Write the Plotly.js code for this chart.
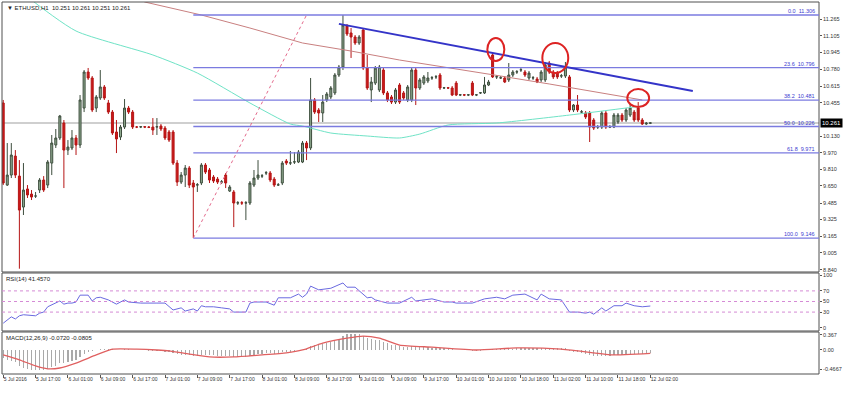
<!DOCTYPE html>
<html><head><meta charset="utf-8">
<script src="https://cdn.plot.ly/plotly-3.0.1.min.js"></script>
<style>html,body{margin:0;padding:0;background:#fff;}#chart{width:843px;height:393px;}</style>
</head><body><div id="chart"></div>
<script>
// ---- ETHUSD H1 candles (index 0 = 5 Jul 2016 ~09:00) ----
const open=[
10.454,9.659,9.756,9.940,9.746,9.446,9.621,9.572,9.553,9.611,
9.708,9.659,9.872,10.047,10.115,10.260,9.998,10.018,10.115,10.047,
10.405,10.754,10.696,10.405,10.502,10.609,10.454,10.366,10.173,10.124,
10.221,10.405,10.366,10.221,10.221,10.224,10.221,10.221,10.221,10.231,
10.211,10.173,10.173,9.872,9.688,9.756,9.824,9.679,9.659,9.679,
9.853,9.805,9.737,9.717,9.688,9.756,9.601,9.592,9.485,9.487,
9.485,9.485,9.659,9.727,9.746,9.776,9.776,9.717,9.659,9.679,
9.892,9.872,9.882,9.882,9.882,10.066,10.018,10.483,10.386,10.357,
10.483,10.512,10.551,10.725,10.802,11.200,11.132,11.093,11.035,11.161,
10.793,10.580,10.647,10.580,10.773,10.551,10.512,10.463,10.628,10.551,
10.483,10.483,10.773,10.599,10.647,10.667,10.696,10.706,10.725,10.599,
10.601,10.599,10.647,10.531,10.533,10.531,10.647,10.531,10.551,10.551,
10.628,10.919,10.706,10.696,10.696,10.677,10.725,10.754,10.773,10.754,
10.696,10.696,10.686,10.677,10.677,10.841,10.754,10.744,10.715,10.715,
10.706,10.386,10.434,10.366,10.357,10.357,10.289,10.221,10.221,10.357,
10.221,10.221,10.270,10.337,10.289,10.337,10.366,10.405,10.289,10.250,
10.258];
const high=[
10.483,10.066,10.066,9.998,9.901,9.872,9.659,9.611,9.592,9.727,
9.746,9.901,10.144,10.202,10.338,10.289,10.095,10.192,10.144,10.531,
10.773,10.793,10.715,10.531,10.773,10.628,10.483,10.386,10.289,10.241,
10.492,10.425,10.386,10.231,10.231,10.231,10.231,10.308,10.308,10.250,
10.231,10.192,10.192,9.901,9.785,9.853,9.843,9.708,9.679,9.872,
9.872,9.824,9.756,9.737,9.708,9.776,9.659,9.611,9.504,9.504,
9.504,9.698,9.805,9.901,9.766,9.795,9.795,9.737,9.679,9.892,
9.911,9.989,9.979,9.998,10.086,10.086,10.696,10.502,10.405,10.531,
10.560,10.618,10.744,10.822,11.306,11.219,11.180,11.112,11.112,11.180,
10.919,10.706,10.812,10.822,10.793,10.570,10.531,10.599,10.647,10.570,
10.628,10.793,10.793,10.696,10.725,10.754,10.715,10.725,10.744,10.609,
10.609,10.618,10.667,10.541,10.541,10.541,10.667,10.541,10.560,10.706,
10.677,10.938,10.725,10.715,10.715,10.841,10.773,10.773,10.793,10.773,
10.764,10.715,10.706,10.773,10.851,10.861,10.773,10.764,10.735,10.851,
10.725,10.444,10.531,10.386,10.376,10.376,10.308,10.241,10.376,10.376,
10.241,10.357,10.357,10.357,10.405,10.444,10.386,10.463,10.308,10.270,
10.265];
const low=[
9.659,9.650,9.727,9.727,8.849,9.369,9.534,9.514,9.534,9.582,
9.592,9.630,9.756,10.018,10.095,9.630,9.950,9.998,9.950,10.018,
10.366,10.677,10.366,10.366,10.483,10.483,10.347,10.144,9.969,10.095,
10.202,10.347,10.202,10.211,10.211,10.211,10.211,10.144,10.144,10.182,
10.095,10.076,9.853,9.650,9.669,9.640,9.630,9.146,9.592,9.659,
9.766,9.679,9.679,9.669,9.669,9.630,9.592,9.252,9.466,9.466,
9.320,9.466,9.640,9.708,9.727,9.756,9.688,9.640,9.650,9.659,
9.853,9.853,9.863,9.872,9.872,9.901,9.998,10.347,10.270,10.270,
10.463,10.492,10.531,10.706,10.773,11.103,10.890,11.016,11.016,10.773,
10.580,10.463,10.628,10.560,10.531,10.463,10.444,10.444,10.444,10.483,
10.463,10.463,10.434,10.580,10.628,10.647,10.677,10.686,10.580,10.589,
10.589,10.521,10.521,10.521,10.521,10.521,10.521,10.521,10.541,10.541,
10.618,10.696,10.686,10.686,10.647,10.657,10.706,10.735,10.754,10.706,
10.677,10.677,10.647,10.657,10.657,10.735,10.686,10.686,10.696,10.696,
10.366,10.366,10.366,10.357,10.299,10.076,10.192,10.202,10.202,10.202,
10.211,10.211,10.250,10.270,10.270,10.318,10.270,10.270,10.241,10.241,
10.250];
const close=[
9.679,9.756,9.950,9.756,9.417,9.611,9.563,9.543,9.553,9.708,
9.611,9.882,10.066,10.115,10.328,9.998,10.027,10.115,10.047,10.483,
10.754,10.696,10.386,10.512,10.609,10.502,10.366,10.163,10.105,10.221,
10.405,10.366,10.221,10.221,10.224,10.221,10.218,10.192,10.224,10.202,
10.115,10.095,9.872,9.688,9.756,9.824,9.659,9.640,9.662,9.853,
9.785,9.708,9.698,9.688,9.690,9.679,9.640,9.485,9.487,9.485,
9.487,9.679,9.727,9.756,9.748,9.778,9.708,9.659,9.661,9.872,
9.872,9.874,9.884,9.979,10.066,10.018,10.483,10.366,10.357,10.463,
10.541,10.599,10.725,10.802,11.209,11.122,11.093,11.035,11.093,10.793,
10.599,10.657,10.793,10.802,10.551,10.483,10.463,10.580,10.463,10.502,
10.609,10.773,10.599,10.677,10.706,10.696,10.698,10.708,10.599,10.601,
10.599,10.531,10.531,10.533,10.531,10.533,10.531,10.533,10.553,10.628,
10.657,10.706,10.708,10.698,10.657,10.725,10.754,10.756,10.775,10.725,
10.744,10.698,10.657,10.754,10.822,10.754,10.706,10.706,10.717,10.802,
10.386,10.434,10.386,10.368,10.318,10.221,10.211,10.223,10.357,10.221,
10.223,10.337,10.337,10.289,10.386,10.405,10.289,10.289,10.250,10.258,
10.261];

// moving averages read at sample candles
const maSlowIdx=[30,35,49,61,74,86,98,111,123,135,148,158];
const maSlowVal=[11.55,11.432,11.306,11.180,11.035,10.957,10.870,10.793,10.715,10.638,10.551,10.483];
const maFastIdx=[0,7,18,37,48,61,71,74,81,90,98,103,110,122,140,158];
const maFastVal=[11.69,11.451,11.151,10.919,10.744,10.454,10.250,10.231,10.163,10.134,10.115,10.153,10.241,10.260,10.337,10.425];

// Fibonacci levels
const fibLevels=["0.0","23.6","38.2","50.0","61.8","100.0"];
const fibPrices=[11.306,10.796,10.481,10.226,9.971,9.146];

// RSI(14) samples
const rsiIdx=[0,2,3,4,5,8,9,10,11,13,14,15,16,17,18,19,21,22,23,24,26,28,30,31,34,38,40,42,44,45,47,48,49,50,52,54,56,57,60,61,62,65,67,68,71,73,74,75,76,78,81,84,85,87,90,91,92,95,98,101,102,106,109,111,112,116,119,122,124,126,129,132,133,135,138,140,142,144,145,146,148,149,151,153,154,156,158,160];
const rsiVal=[9,21,17,23,25,23,28,30,40,47,51,45,47,47,49,62,62,51,57,58,53,45,53,49,47,47,47,34,38,32,36,32,42,40,40,38,36,30,30,47,49,49,43,57,57,64,58,64,79,72,75,85,77,77,57,58,53,47,47,58,51,55,49,49,47,47,55,58,55,62,64,53,64,55,53,30,30,28,30,26,38,32,42,42,47,42,40,41.457];

// MACD(12,26,9) main values per candle and signal samples
const macdMain=[
-0.20,-0.24,-0.28,-0.30,-0.40,-0.44,-0.46,-0.48,-0.49,-0.49,
-0.48,-0.46,-0.42,-0.38,-0.32,-0.32,-0.30,-0.27,-0.25,-0.18,
-0.10,-0.05,-0.03,0.00,0.02,0.03,0.03,0.02,0.01,0.01,
0.02,0.02,0.01,0.00,-0.01,-0.01,-0.02,-0.02,-0.03,-0.03,
-0.04,-0.05,-0.08,-0.11,-0.12,-0.12,-0.13,-0.14,-0.14,-0.12,
-0.12,-0.13,-0.13,-0.14,-0.14,-0.14,-0.15,-0.17,-0.17,-0.17,
-0.17,-0.14,-0.12,-0.10,-0.09,-0.08,-0.08,-0.09,-0.09,-0.06,
-0.05,-0.04,-0.03,-0.01,0.01,0.03,0.10,0.12,0.13,0.15,
0.17,0.19,0.23,0.27,0.35,0.38,0.39,0.39,0.38,0.35,
0.30,0.27,0.25,0.24,0.20,0.16,0.13,0.12,0.10,0.08,
0.08,0.09,0.07,0.07,0.07,0.07,0.06,0.06,0.05,0.04,
0.03,0.02,0.01,0.00,-0.01,-0.01,-0.02,-0.02,-0.02,-0.01,
0.00,0.02,0.02,0.02,0.02,0.03,0.03,0.04,0.04,0.04,
0.04,0.04,0.04,0.04,0.05,0.05,0.04,0.04,0.04,0.05,
-0.02,-0.05,-0.06,-0.08,-0.10,-0.13,-0.14,-0.15,-0.14,-0.14,
-0.14,-0.13,-0.12,-0.12,-0.11,-0.10,-0.10,-0.09,-0.09,-0.08,
-0.072];
const sigIdx=[0,4,8,11,14,18,23,27,33,38,41,46,51,57,64,70,74,79,85,89,93,98,106,117,127,138,146,150,160];
const sigVal=[-0.12,-0.24,-0.39,-0.46,-0.44,-0.32,-0.12,0.02,0.02,0.00,-0.02,-0.10,-0.17,-0.17,-0.12,-0.07,0.00,0.17,0.29,0.34,0.29,0.12,0.07,0.00,0.05,0.02,-0.07,-0.12,-0.0805];

// axis ticks
const xTickIdx=[0,8,16,24,32,40,48,56,64,72,80,88,96,104,112,120,128,136,144,152,160];
const xTickText=["5 Jul 2016","5 Jul 17:00","6 Jul 01:00","6 Jul 09:00","6 Jul 17:00","7 Jul 01:00","7 Jul 09:00","7 Jul 17:00","8 Jul 01:00","8 Jul 09:00","8 Jul 17:00","9 Jul 01:00","9 Jul 09:00","9 Jul 17:00","10 Jul 01:00","10 Jul 10:00","10 Jul 18:00","11 Jul 02:00","11 Jul 10:00","11 Jul 18:00","12 Jul 02:00"];
const priceTicks=[11.265,11.105,10.945,10.780,10.615,10.455,10.130,9.970,9.810,9.650,9.485,9.325,9.165,9.005,8.840];
const rsiTicks=[0,30,50,70,100];
const macdTicks=[0.367,0,-0.4667];
const macdTickText=["0.367","0.00","-0.4667"];
const lastPrice=10.261;

// trend line and circle anchors (candle index, price)
const trendStart=[83,11.22], trendEnd=[170.5,10.57];
const circles=[[119.7,123.9,10.861,11.083],[133.3,139.7,10.744,11.035],[154.3,159.7,10.415,10.589]];
const fibDiag=[[47,9.146],[75,11.306]];

const idx=open.map((_,i)=>i);
const FONT="Liberation Sans";

const traces=[
 {type:'scatter',mode:'lines',x:maSlowIdx,y:maSlowVal,xaxis:'x',yaxis:'y',line:{color:'#c98080',width:1},hoverinfo:'skip'},
 {type:'scatter',mode:'lines',x:maFastIdx,y:maFastVal,xaxis:'x',yaxis:'y',line:{color:'#6fe3c6',width:1,shape:'spline',smoothing:0.6},hoverinfo:'skip'},
 {type:'candlestick',x:idx,open:open,high:high,low:low,close:close,xaxis:'x',yaxis:'y',
  increasing:{line:{color:'#3d4d3d',width:1},fillcolor:'#8fa98f'},
  decreasing:{line:{color:'#b51515',width:1},fillcolor:'#cc1a1a'},whiskerwidth:0,hoverinfo:'skip'},
 {type:'scatter',mode:'lines',x:rsiIdx,y:rsiVal,xaxis:'x',yaxis:'y2',line:{color:'#6a6ae0',width:1},hoverinfo:'skip'},
 {type:'bar',x:idx,y:macdMain,xaxis:'x',yaxis:'y3',width:0.3,marker:{color:'#a9a9a9',line:{width:0}},hoverinfo:'skip'},
 {type:'scatter',mode:'lines',x:sigIdx,y:sigVal,xaxis:'x',yaxis:'y3',line:{color:'#e06060',width:1.3,shape:'spline',smoothing:0.5},hoverinfo:'skip'}
];

const shapes=[];
// panel borders
[[0.2742,1],[0.1156,0.2715],[0,0.1129]].forEach(d=>{
 shapes.push({type:'rect',xref:'paper',yref:'paper',x0:0,x1:1,y0:d[0],y1:d[1],line:{color:'#505050',width:1},fillcolor:'rgba(0,0,0,0)',layer:'above'});
});
// current price line
shapes.push({type:'line',xref:'paper',yref:'y',x0:0,x1:1,y0:lastPrice,y1:lastPrice,line:{color:'#cfcfcf',width:2},layer:'below'});
// fib levels
fibPrices.forEach(p=>shapes.push({type:'line',xref:'x',yref:'y',x0:47,x1:201.7,y0:p,y1:p,line:{color:'#7b7be0',width:1.3}}));
// fib diagonal
shapes.push({type:'line',xref:'x',yref:'y',x0:fibDiag[0][0],y0:fibDiag[0][1],x1:fibDiag[1][0],y1:fibDiag[1][1],line:{color:'#e46a8c',width:1,dash:'dot'}});
// trend line
shapes.push({type:'line',xref:'x',yref:'y',x0:trendStart[0],y0:trendStart[1],x1:trendEnd[0],y1:trendEnd[1],line:{color:'#3434c8',width:2}});
// circles
circles.forEach(c=>shapes.push({type:'circle',xref:'x',yref:'y',x0:c[0],x1:c[1],y0:c[2],y1:c[3],line:{color:'#dd2323',width:2}}));
// RSI levels
[70,50,30].forEach(v=>shapes.push({type:'line',xref:'paper',yref:'y2',x0:0,x1:1,y0:v,y1:v,line:{color:'#d58ad5',width:1,dash:'dot'}}));

const annotations=[
 {xref:'paper',yref:'paper',x:0.004,y:0.997,xanchor:'left',yanchor:'top',text:'▼ ETHUSD,H1  10.251 10.261 10.251 10.261',showarrow:false,font:{family:FONT,size:6,color:'#222'}},
 {xref:'paper',yref:'paper',x:0.003,y:0.268,xanchor:'left',yanchor:'top',text:'RSI(14) 41.4570',showarrow:false,font:{family:FONT,size:6,color:'#222'}},
 {xref:'paper',yref:'paper',x:0.003,y:0.110,xanchor:'left',yanchor:'top',text:'MACD(12,26,9) -0.0720 -0.0805',showarrow:false,font:{family:FONT,size:6,color:'#222'}},
 {xref:'paper',yref:'y',x:1.001,y:lastPrice,xanchor:'left',yanchor:'middle',text:'10.261',showarrow:false,bgcolor:'#000',borderpad:1,font:{family:FONT,size:6,color:'#fff'}}
];
fibLevels.forEach((l,k)=>annotations.push({xref:'x',yref:'y',x:201.3,y:fibPrices[k],xanchor:'right',yanchor:'bottom',yshift:-1,text:l+'  '+fibPrices[k].toFixed(3),showarrow:false,font:{family:FONT,size:5.5,color:'#3c3cd0'}}));

const axY={side:'right',ticks:'outside',ticklen:2,tickcolor:'#555',showgrid:false,zeroline:false,showline:false,tickfont:{family:FONT,size:5.5,color:'#333'},fixedrange:true};
const layout={
 width:843,height:393,margin:{l:2,r:24,t:2,b:19},paper_bgcolor:'#fff',plot_bgcolor:'#fff',showlegend:false,
 font:{family:FONT,size:6,color:'#333'},bargap:0,
 xaxis:{range:[-0.3,201.7],anchor:'y3',tickmode:'array',tickvals:xTickIdx,ticktext:xTickText,tickangle:0,ticks:'outside',ticklen:3,tickcolor:'#555',
   ticklabelposition:'outside right',showgrid:false,zeroline:false,showline:false,rangeslider:{visible:false},tickfont:{family:FONT,size:5,color:'#333'},fixedrange:true},
 yaxis:Object.assign({},axY,{domain:[0.2742,1],range:[8.817,11.432],tickmode:'array',tickvals:priceTicks,ticktext:priceTicks.map(v=>v.toFixed(3))}),
 yaxis2:Object.assign({},axY,{domain:[0.1156,0.2715],range:[-5.7,103.8],tickmode:'array',tickvals:rsiTicks,ticktext:rsiTicks.map(String)}),
 yaxis3:Object.assign({},axY,{domain:[0,0.1129],range:[-0.587,0.44],tickmode:'array',tickvals:macdTicks,ticktext:macdTickText}),
 shapes:shapes,annotations:annotations
};
Plotly.newPlot('chart',traces,layout,{displayModeBar:false,staticPlot:true});
</script></body></html>
